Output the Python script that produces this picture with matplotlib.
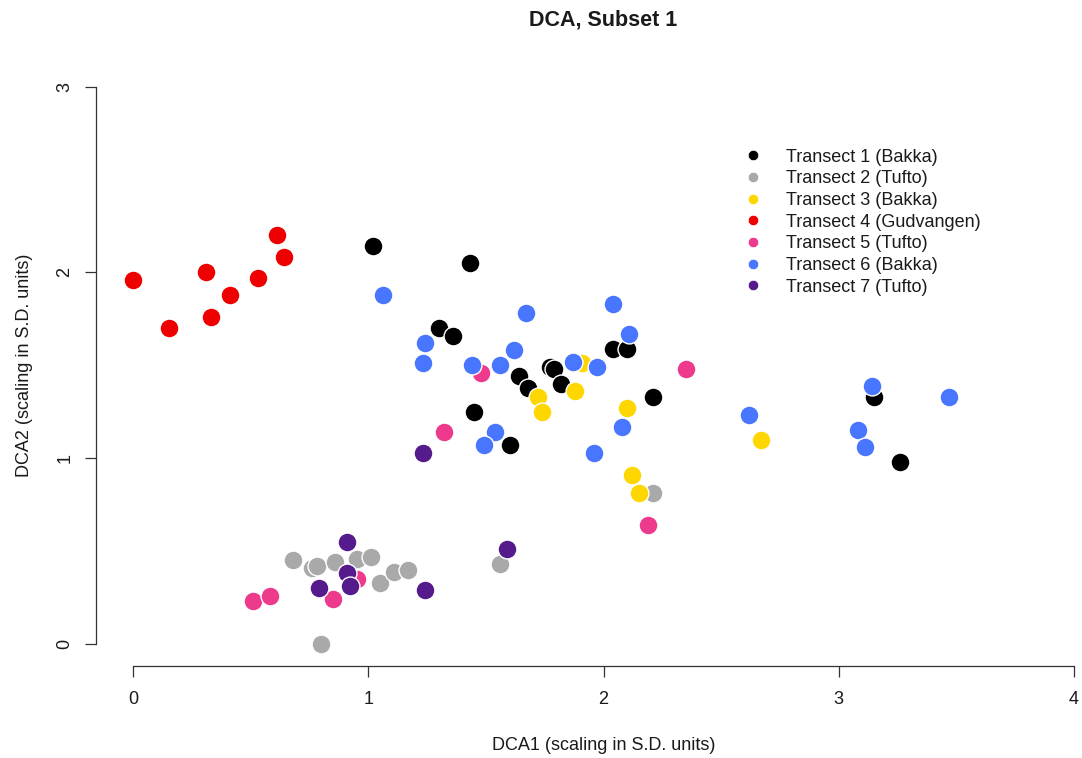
import matplotlib as mpl
import matplotlib.pyplot as plt
from matplotlib.lines import Line2D

LABELS = [
    "Transect 1 (Bakka)",
    "Transect 2 (Tufto)",
    "Transect 3 (Bakka)",
    "Transect 4 (Gudvangen)",
    "Transect 5 (Tufto)",
    "Transect 6 (Bakka)",
    "Transect 7 (Tufto)",
]
COLORS = ["#000000", "#A9A9A9", "#FFD700", "#EE0000", "#EE3A8C", "#4876FF", "#551A8B"]

T1_X = [1.02, 1.43, 1.30, 1.36, 1.64, 1.68, 1.77, 1.79, 1.82, 2.04, 2.10, 2.21, 1.45, 1.60, 3.15, 3.26]
T1_Y = [2.14, 2.05, 1.70, 1.66, 1.44, 1.38, 1.49, 1.48, 1.40, 1.59, 1.59, 1.33, 1.25, 1.07, 1.33, 0.98]

T2_X = [0.68, 0.76, 0.78, 0.86, 0.95, 1.01, 1.05, 1.11, 1.17, 1.56, 0.80, 2.21]
T2_Y = [0.45, 0.41, 0.42, 0.44, 0.46, 0.47, 0.33, 0.39, 0.40, 0.43, 0.00, 0.81]

T3_X = [1.91, 1.72, 1.74, 1.88, 2.10, 2.12, 2.15, 2.67]
T3_Y = [1.51, 1.33, 1.25, 1.36, 1.27, 0.91, 0.81, 1.10]

T4_X = [0.00, 0.15, 0.31, 0.33, 0.41, 0.53, 0.61, 0.64]
T4_Y = [1.96, 1.70, 2.00, 1.76, 1.88, 1.97, 2.20, 2.08]

T5_X = [0.51, 0.58, 0.85, 0.95, 1.48, 1.32, 2.35, 2.19]
T5_Y = [0.23, 0.26, 0.24, 0.35, 1.46, 1.14, 1.48, 0.64]

T6_X = [1.06, 1.67, 2.04, 2.11, 1.24, 1.23, 1.44, 1.56, 1.62, 1.87,
        1.97, 1.54, 1.49, 2.08, 1.96, 3.14, 3.47, 3.08, 3.11, 2.62]
T6_Y = [1.88, 1.78, 1.83, 1.67, 1.62, 1.51, 1.50, 1.50, 1.58, 1.52,
        1.49, 1.14, 1.07, 1.17, 1.03, 1.39, 1.33, 1.15, 1.06, 1.23]

T7_X = [0.91, 0.91, 0.92, 0.79, 1.24, 1.59, 1.23]
T7_Y = [0.55, 0.38, 0.31, 0.30, 0.29, 0.51, 1.03]

SERIES = [(T1_X, T1_Y), (T2_X, T2_Y), (T3_X, T3_Y), (T4_X, T4_Y),
          (T5_X, T5_Y), (T6_X, T6_Y), (T7_X, T7_Y)]

mpl.rcParams.update({
    "font.family": ["Liberation Sans", "DejaVu Sans"],
    "font.size": 13,
    "text.color": "#1a1a1a",
    "axes.labelcolor": "#1a1a1a",
    "xtick.color": "#1a1a1a",
    "ytick.color": "#1a1a1a",
})

W, H = 1082, 758
fig = plt.figure(figsize=(W / 100, H / 100), dpi=100)
left, right, bottom, top = 95.6, 1111.6, 666.3, 64.2
ax = fig.add_axes([left / W, 1 - bottom / H, (right - left) / W, (bottom - top) / H])

for (xs, ys), c in zip(SERIES, COLORS):
    ax.scatter(xs, ys, s=185, c=c, edgecolors="white", linewidths=1.0, zorder=3)

ax.set_xlim(-0.16, 4.16)
ax.set_ylim(-0.12, 3.12)
ax.spines["top"].set_visible(False)
ax.spines["right"].set_visible(False)
ax.spines["bottom"].set_bounds(0, 4)
ax.spines["left"].set_bounds(0, 3)
for s in ("bottom", "left"):
    ax.spines[s].set_linewidth(0.9)
    ax.spines[s].set_color("#333333")
ax.set_xticks([0, 1, 2, 3, 4])
ax.set_yticks([0, 1, 2, 3])
ax.tick_params(axis="x", length=8, width=0.9, color="#333333", labelsize=13, pad=10)
ax.tick_params(axis="y", length=8, width=0.9, color="#333333", labelsize=13, pad=8)
for lab in ax.get_yticklabels():
    lab.set_rotation(90)
    lab.set_va("center")

ax.set_xlabel("DCA1 (scaling in S.D. units)", fontsize=13, labelpad=21)
ax.set_ylabel("DCA2 (scaling in S.D. units)", fontsize=13, labelpad=17)
ax.set_title("DCA, Subset 1", fontsize=15.5, fontweight="bold", pad=28)

handles = [Line2D([], [], marker="o", linestyle="none", markersize=7.5,
                  markerfacecolor=c, markeredgecolor="white", markeredgewidth=0.5)
           for c in COLORS]
fig.legend(handles, LABELS, loc="upper left", bbox_to_anchor=(735 / W, 1 - 148.5 / H),
           frameon=False, fontsize=13, labelspacing=0.26, handletextpad=0.81,
           borderaxespad=0, borderpad=0)

fig.savefig("out.png", dpi=100)
